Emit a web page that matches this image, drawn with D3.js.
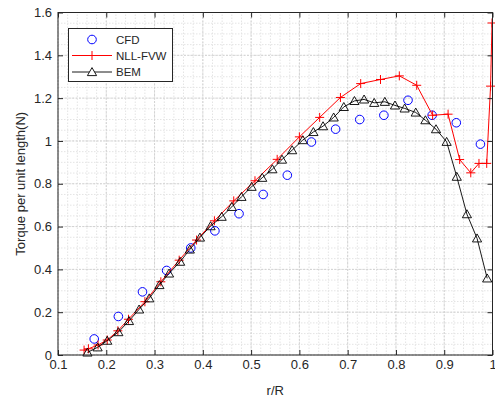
<!DOCTYPE html>
<html>
<head>
<meta charset="utf-8">
<script src="https://cdn.jsdelivr.net/npm/d3@7"></script>
<style>
  body { margin: 0; background: #fff; }
  svg { display: block; font-family: "Liberation Sans", Arial, sans-serif; }
</style>
</head>
<body>
<div id="chart"></div>
<script>
// data
const cfdX = [0.175, 0.225, 0.275, 0.325, 0.375, 0.425, 0.475, 0.525, 0.575, 0.625, 0.675, 0.725, 0.775, 0.825, 0.875, 0.925, 0.975];
const cfdY = [0.075, 0.18, 0.295, 0.395, 0.5, 0.58, 0.66, 0.75, 0.84, 0.995, 1.055, 1.10, 1.12, 1.19, 1.12, 1.085, 0.985];

const fvwX = [0.154, 0.163, 0.183, 0.202, 0.224, 0.246, 0.280, 0.313, 0.351, 0.387, 0.424, 0.464, 0.508, 0.554, 0.600, 0.642, 0.685, 0.727, 0.768, 0.807, 0.843, 0.876, 0.908, 0.932, 0.955, 0.972, 0.988, 0.996, 0.999];
const fvwY = [0.023, 0.029, 0.047, 0.070, 0.113, 0.167, 0.249, 0.342, 0.443, 0.537, 0.627, 0.720, 0.814, 0.914, 1.019, 1.110, 1.203, 1.268, 1.287, 1.304, 1.260, 1.120, 1.125, 0.913, 0.851, 0.895, 0.895, 1.256, 1.551];

const bemX = [0.161, 0.182, 0.202, 0.225, 0.247, 0.268, 0.289, 0.310, 0.330, 0.353, 0.373, 0.394, 0.416, 0.439, 0.460, 0.480, 0.501, 0.523, 0.544, 0.564, 0.585, 0.607, 0.629, 0.649, 0.671, 0.692, 0.714, 0.734, 0.755, 0.777, 0.798, 0.818, 0.841, 0.861, 0.883, 0.905, 0.926, 0.947, 0.968, 0.989];
const bemY = [0.012, 0.036, 0.067, 0.107, 0.159, 0.213, 0.265, 0.327, 0.381, 0.436, 0.493, 0.549, 0.602, 0.646, 0.692, 0.739, 0.786, 0.828, 0.868, 0.913, 0.957, 1.004, 1.042, 1.069, 1.110, 1.159, 1.187, 1.194, 1.178, 1.183, 1.166, 1.152, 1.133, 1.097, 1.055, 0.996, 0.833, 0.658, 0.545, 0.358];

const xTicks = [0.1, 0.2, 0.3, 0.4, 0.5, 0.6, 0.7, 0.8, 0.9, 1];
const yTicks = [0, 0.2, 0.4, 0.6, 0.8, 1, 1.2, 1.4, 1.6];
const xMinor = d3.range(0, 46).map(i => 0.1 + i * 0.02);
const yMinor = d3.range(0, 33).map(i => i * 0.05);

const seriesNames = ["CFD", "NLL-FVW", "BEM"];

const W = 495, H = 398;
const margin = { top: 12.5, right: 2.5, bottom: 43, left: 58 };
const axisColor = "#262626";

const svg = d3.select("#chart").append("svg")
  .attr("width", W)
  .attr("height", H);

const x = d3.scaleLinear().domain([0.1, 1]).range([margin.left, W - margin.right]);
const y = d3.scaleLinear().domain([0, 1.6]).range([H - margin.bottom, margin.top]);

const plot = svg.append("g");

// minor grid
plot.append("g").selectAll("line").data(xMinor).join("line")
  .attr("x1", d => x(d)).attr("x2", d => x(d))
  .attr("y1", y(0)).attr("y2", y(1.6))
  .attr("stroke", "#e4e4e4").attr("stroke-dasharray", "1.5,1.5").attr("stroke-width", 1);
plot.append("g").selectAll("line").data(yMinor).join("line")
  .attr("x1", x(0.1)).attr("x2", x(1))
  .attr("y1", d => y(d)).attr("y2", d => y(d))
  .attr("stroke", "#e4e4e4").attr("stroke-dasharray", "1.5,1.5").attr("stroke-width", 1);

// major grid
plot.append("g").selectAll("line").data(xTicks).join("line")
  .attr("x1", d => x(d)).attr("x2", d => x(d))
  .attr("y1", y(0)).attr("y2", y(1.6))
  .attr("stroke", "#d2d2d2").attr("stroke-dasharray", "2,1.5").attr("stroke-width", 1);
plot.append("g").selectAll("line").data(yTicks).join("line")
  .attr("x1", x(0.1)).attr("x2", x(1))
  .attr("y1", d => y(d)).attr("y2", d => y(d))
  .attr("stroke", "#d2d2d2").attr("stroke-dasharray", "2,1.5").attr("stroke-width", 1);

// axes with inward ticks
const fmt = d => d3.format("")(+d.toFixed(1));
const styleAxis = g => {
  g.select(".domain").remove();
  g.selectAll(".tick line").attr("stroke", axisColor);
  g.selectAll(".tick text").attr("fill", axisColor).attr("font-size", 13);
  g.attr("font-family", null);
};
svg.append("g").attr("transform", `translate(0,${y(0)})`)
  .call(d3.axisBottom(x).tickValues(xTicks).tickSize(-5).tickPadding(4).tickFormat(fmt))
  .call(styleAxis)
  .selectAll(".tick text").attr("dy", "0.95em").attr("y", 2);
svg.append("g").attr("transform", `translate(${x(0.1)},0)`)
  .call(d3.axisLeft(y).tickValues(yTicks).tickSize(-5).tickPadding(6).tickFormat(fmt))
  .call(styleAxis);
svg.append("g").attr("transform", `translate(0,${y(1.6)})`)
  .call(d3.axisTop(x).tickValues(xTicks).tickSize(-5).tickFormat(""))
  .call(styleAxis);
svg.append("g").attr("transform", `translate(${x(1)},0)`)
  .call(d3.axisRight(y).tickValues(yTicks).tickSize(-5).tickFormat(""))
  .call(styleAxis);

svg.append("rect")
  .attr("x", x(0.1)).attr("y", y(1.6))
  .attr("width", x(1) - x(0.1)).attr("height", y(0) - y(1.6))
  .attr("fill", "none").attr("stroke", axisColor).attr("stroke-width", 1);

// marker helpers
const triPath = (cx, cy) => `M${cx - 4.6},${cy + 3.6}L${cx},${cy - 4.4}L${cx + 4.6},${cy + 3.6}Z`;
const crossPath = (cx, cy) => `M${cx - 4.5},${cy}H${cx + 4.5}M${cx},${cy - 4.5}V${cy + 4.5}`;

// CFD
const cfd = cfdX.map((d, i) => ({ x: d, y: cfdY[i] }));
plot.append("g").selectAll("circle").data(cfd).join("circle")
  .attr("cx", d => x(d.x)).attr("cy", d => y(d.y)).attr("r", 4.3)
  .attr("fill", "none").attr("stroke", "#0000ff").attr("stroke-width", 1);

// NLL-FVW
const fvw = fvwX.map((d, i) => ({ x: d, y: fvwY[i] }));
const line = d3.line().x(d => x(d.x)).y(d => y(d.y));
plot.append("path").attr("d", line(fvw))
  .attr("fill", "none").attr("stroke", "#ff0000").attr("stroke-width", 1);
plot.append("g").selectAll("path").data(fvw).join("path")
  .attr("d", d => crossPath(x(d.x), y(d.y)))
  .attr("stroke", "#ff0000").attr("stroke-width", 1);

// BEM
const bem = bemX.map((d, i) => ({ x: d, y: bemY[i] }));
plot.append("path").attr("d", line(bem))
  .attr("fill", "none").attr("stroke", "#000").attr("stroke-width", 0.9);
plot.append("g").selectAll("path").data(bem).join("path")
  .attr("d", d => triPath(x(d.x), y(d.y)))
  .attr("fill", "none").attr("stroke", "#000").attr("stroke-width", 0.9);

// legend
const leg = svg.append("g");
leg.append("rect").attr("x", 68.5).attr("y", 28.5).attr("width", 104).attr("height", 53)
  .attr("fill", "#fff").attr("stroke", axisColor).attr("stroke-width", 1);
const rowsY = [39.5, 55.5, 72];
leg.append("circle").attr("cx", 92).attr("cy", rowsY[0]).attr("r", 4.3)
  .attr("fill", "none").attr("stroke", "#0000ff");
leg.append("line").attr("x1", 72).attr("x2", 112).attr("y1", rowsY[1]).attr("y2", rowsY[1])
  .attr("stroke", "#ff0000");
leg.append("path").attr("d", crossPath(92, rowsY[1])).attr("stroke", "#ff0000");
leg.append("line").attr("x1", 72).attr("x2", 112).attr("y1", rowsY[2]).attr("y2", rowsY[2])
  .attr("stroke", "#000").attr("stroke-width", 0.9);
leg.append("path").attr("d", triPath(92, rowsY[2])).attr("fill", "#fff").attr("stroke", "#000").attr("stroke-width", 0.9);
leg.selectAll("text").data(seriesNames).join("text")
  .attr("x", 116).attr("y", (d, i) => rowsY[i]).attr("dy", "0.36em")
  .attr("font-size", 11.5).attr("fill", axisColor).text(d => d);

// axis labels
svg.append("text").attr("x", (x(0.1) + x(1)) / 2).attr("y", 395)
  .attr("text-anchor", "middle").attr("font-size", 13).attr("fill", axisColor).text("r/R");
svg.append("text")
  .attr("transform", `translate(20,${(y(0) + y(1.6)) / 2}) rotate(-90)`)
  .attr("dy", "0.36em")
  .attr("text-anchor", "middle").attr("font-size", 13).attr("fill", axisColor)
  .text("Torque per unit length(N)");
</script>
</body>
</html>
